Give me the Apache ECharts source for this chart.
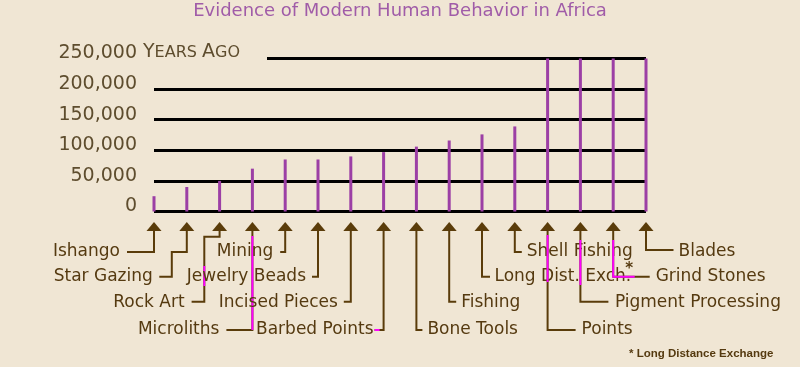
<!DOCTYPE html>
<html><head><meta charset="utf-8">
<script src="https://cdn.jsdelivr.net/npm/echarts@6/dist/echarts.min.js"></script>
<style>html,body{margin:0;padding:0;background:#f0e6d4;} #c{width:800px;height:367px;}</style>
</head><body><div id="c"></div>
<script>
// ---- data ----
const categories = ['Ishango','Star Gazing','Rock Art','Microliths','Mining','Jewelry Beads','Incised Pieces','Barbed Points','Bone Tools','Fishing','Long Dist. Exch.','Shell Fishing','Points','Pigment Processing','Grind Stones','Blades'];
const yearsAgo = [25000,40000,50000,70000,85000,85000,90000,97000,106000,116000,126000,139000,250000,250000,250000,250000];
const yTicks = [0,50000,100000,150000,200000,250000];
const titleText = 'Evidence of Modern Human Behavior in Africa';
const footnoteText = '* Long Distance Exchange';

// ---- leader-line layout (style only): x offsets relative to each bar, absolute y ----
const leaders = [
  {path:[[0,230],[0,252],[-27,252]], tx:-34, ty:251.5, align:'right'},
  {path:[[0,230],[0,252],[-15,252],[-15,276.7],[-27.5,276.7]], tx:-34, ty:276.5, align:'right'},
  {path:[[0,230],[0,236.7],[-15.3,236.7],[-15.3,301.7],[-28,301.7]], tx:-35, ty:302.5, align:'right', hl:[[[-15.3,266],[-15.3,286]]]},
  {path:[[0,230],[0,330],[-26,330]], tx:-33, ty:329.5, align:'right', hl:[[[0,236],[0,330]]]},
  {path:[[0,230],[0,252],[-5,252]], tx:-12, ty:251.5, align:'right'},
  {path:[[0,230],[0,276.7],[-6,276.7]], tx:-12, ty:276.5, align:'right'},
  {path:[[0,230],[0,301.7],[-7,301.7]], tx:-13, ty:302.5, align:'right'},
  {path:[[0,230],[0,330],[-9,330]], tx:-10, ty:329.5, align:'right', hl:[[[-9,330],[-4,330]]]},
  {path:[[0,230],[0,330],[6,330]], tx:11, ty:329.5, align:'left'},
  {path:[[0,230],[0,301.7],[7,301.7]], tx:12, ty:302.5, align:'left'},
  {path:[[0,230],[0,276.7],[8,276.7]], tx:12.5, ty:276.5, align:'left'},
  {path:[[0,230],[0,252],[7,252]], tx:12, ty:251.5, align:'left'},
  {path:[[0,230],[0,330],[28,330]], tx:34, ty:329.5, align:'left', hl:[[[0,235],[0,282]]]},
  {path:[[0,230],[0,301.7],[28,301.7]], tx:34.5, ty:302.5, align:'left', hl:[[[0,240],[0,285]]]},
  {path:[[0,230],[0,276.7],[36.5,276.7]], tx:42.5, ty:276.5, align:'left', hl:[[[0,240],[0,276.7],[21.5,276.7]]], star:[16,269]},
  {path:[[0,230],[0,250],[27.5,250]], tx:32.5, ty:251.5, align:'left'}
];

const BG = '#f0e6d4', BROWN = '#5a3c0a', TEXT = '#553a10', PURPLE = '#9c3fa5', AXISTXT = '#5e4d2e';

function renderLeader(params, api){
  const i = params.dataIndex;
  const p = api.coord([api.value(0), 0]);
  const x = p[0], y0 = p[1];
  const L = leaders[i];
  const ch = [];
  ch.push({type:'polygon', shape:{points:[[x, y0+10.5],[x-7.5, y0+19.5],[x+7.5, y0+19.5]]}, style:{fill:BROWN}});
  ch.push({type:'polyline', shape:{points:L.path.map(q=>[x+q[0], q[1]])}, style:{stroke:BROWN, lineWidth:2, fill:null, lineJoin:'miter'}});
  (L.hl||[]).forEach(seg => ch.push({type:'polyline', shape:{points:seg.map(q=>[x+q[0], q[1]])}, style:{stroke:'#ff00ff', lineWidth:2, fill:null, lineJoin:'miter'}}));
  ch.push({type:'text', style:{text:categories[i], x:x+L.tx, y:L.ty, fill:TEXT, fontSize:17, fontFamily:'DejaVu Sans', align:L.align, verticalAlign:'middle'}});
  if (L.star) ch.push({type:'text', style:{text:'*', x:x+L.star[0], y:L.star[1], fill:TEXT, fontSize:15, fontWeight:'bold', fontFamily:'DejaVu Sans', align:'center', verticalAlign:'middle'}});
  return {type:'group', children:ch};
}

const chart = echarts.init(document.getElementById('c'), null, {renderer:'canvas'});
chart.setOption({
  backgroundColor: BG,
  animation: false,
  title: {text:titleText, left:'center', top:-3, textStyle:{color:'#a05ca8', fontSize:18, fontWeight:'normal', fontFamily:'DejaVu Sans'}},
  grid: {left:154, right:154, top:58.5, bottom:155.5, containLabel:false},
  xAxis: {type:'category', data:categories, boundaryGap:false, axisLine:{show:false}, axisTick:{show:false}, axisLabel:{show:false}, splitLine:{show:false}},
  yAxis: [
    {type:'value', min:0, max:250000, interval:50000,
     axisLine:{show:false}, axisTick:{show:false},
     splitLine:{show:true, lineStyle:{color:'#000', width:3}},
     axisLabel:{margin:17, showMinLabel:true, showMaxLabel:true, hideOverlap:false, color:AXISTXT, fontSize:19, fontFamily:'DejaVu Sans', verticalAlign:'bottom', lineHeight:10,
       formatter: v => yTicks.indexOf(v) >= 0 ? v.toLocaleString('en-US') : ''}},
    {type:'value', min:0, max:250000, interval:50000, position:'left', offset:-113,
     axisLine:{show:false}, axisTick:{show:false}, splitLine:{show:false},
     axisLabel:{margin:0, showMinLabel:true, showMaxLabel:true, hideOverlap:false, color:AXISTXT, fontFamily:'DejaVu Sans', padding:[0,27,12,6], backgroundColor:BG,
       formatter: v => v === yTicks[yTicks.length-1] ? '{Y|Y}{s|EARS }{Y|A}{s|GO}' : '',
       rich:{Y:{fontSize:19, color:AXISTXT, fontFamily:'DejaVu Sans'}, s:{fontSize:16, color:AXISTXT, fontFamily:'DejaVu Sans'}}}}
  ],
  graphic: [{type:'text', left:629, top:348, style:{text:footnoteText, fill:TEXT, font:'bold 11.5px "Liberation Sans"'}}],
  series: [
    {type:'bar', data:yearsAgo, barWidth:3, clip:false, itemStyle:{color:PURPLE}, z:3, silent:true},
    {type:'custom', data:categories.map((c,i)=>[i,0]), renderItem:renderLeader, clip:false, silent:true, z:4}
  ]
});
</script></body></html>
